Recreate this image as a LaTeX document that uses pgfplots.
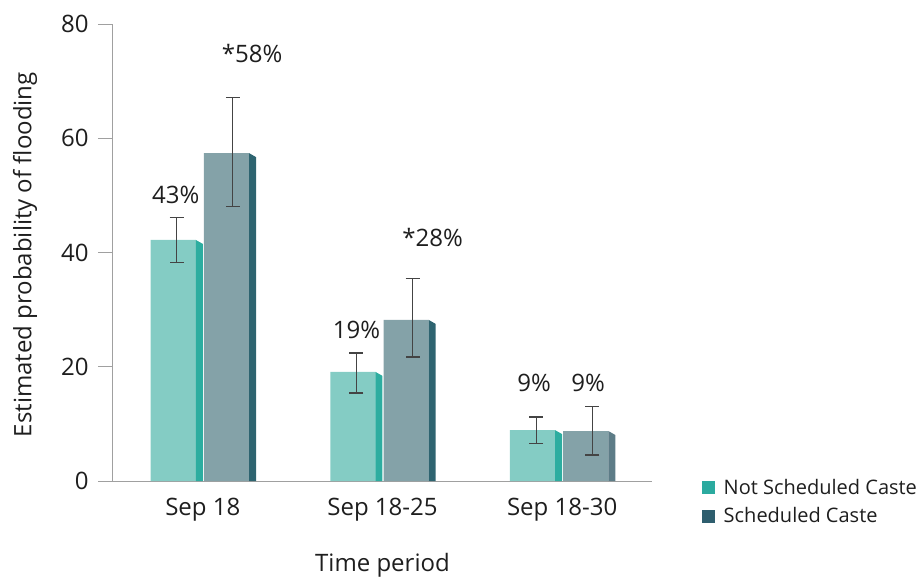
\documentclass[border=0pt]{standalone}
\usepackage{pgfplots}
\pgfplotsset{compat=1.18}
\usepackage{fontspec}
\setmainfont{Open Sans}

\definecolor{nscfront}{HTML}{84CCC4}
\definecolor{nscside}{HTML}{2DADA0}
\definecolor{scfront}{HTML}{84A2A8}
\definecolor{scside}{HTML}{2E6470}
\definecolor{scsidelt}{HTML}{5D7C87}
\definecolor{nsclegend}{HTML}{2BAA9F}
\definecolor{sclegend}{HTML}{2E5E6E}
\definecolor{axisgray}{HTML}{A0A0A0}
\definecolor{errgray}{HTML}{444444}
\definecolor{txt}{HTML}{1E1E1E}

\begin{document}
\begin{tikzpicture}[font=\fontsize{24bp}{28bp}\selectfont]
\path[use as bounding box] (-113bp,-96bp) rectangle (810bp,481bp);
\begin{axis}[
  at={(0,0)}, anchor=south west,
  scale only axis,
  width=539bp, height=457bp,
  xmin=-0.5, xmax=2.5,
  ymin=0, ymax=80,
  axis lines=left,
  axis line style={-, draw=axisgray, line width=1pt},
  ytick={0,20,40,60,80},
  xtick={0,1,2},
  xticklabels={Sep 18, Sep 18-25, Sep 18-30},
  tick align=outside,
  major tick length=15bp,
  y tick style={draw=axisgray, line width=1pt},
  x tick style={draw=none},
  tick label style={text=txt},
  /pgf/number format/assume math mode=true,
  xticklabel style={yshift=1bp},
  yticklabel style={xshift=-6bp},
  xlabel={Time period},
  ylabel={Estimated probability of flooding},
  label style={text=txt},
  x label style={at={(axis description cs:0.5,-0.185)}, anchor=center},
  y label style={at={(axis description cs:-0.163,0.495)}, anchor=center},
  legend style={at={(axis description cs:1.093,0.009)}, anchor=north west,
    draw=none, fill=none, font=\fontsize{20bp}{24bp}\selectfont,
    row sep=8bp, inner sep=0pt, text=txt,
    nodes={inner xsep=9bp}},
  legend cell align=left,
  clip=false,
]
% front faces
\addplot[ybar, bar width=0.2514, bar shift=-0.1648, fill=nscfront, draw=none, forget plot]
  coordinates {(0,42.2) (1,19.1) (2,8.9)};
\addplot[ybar, bar width=0.2514, bar shift=0.1313, fill=scfront, draw=none, forget plot]
  coordinates {(0,57.4) (1,28.2) (2,8.75)};
% side faces
\addplot[fill=nscside, draw=none, forget plot] coordinates {(-0.0391,0) (-0.0391,42.2) (0,41.5) (0,0)} --cycle;
\addplot[fill=nscside, draw=none, forget plot] coordinates {(0.9609,0) (0.9609,19.1) (1,18.4) (1,0)} --cycle;
\addplot[fill=nscside, draw=none, forget plot] coordinates {(1.9609,0) (1.9609,8.9) (2,8.2) (2,0)} --cycle;
\addplot[fill=scside, draw=none, forget plot] coordinates {(0.2570,0) (0.2570,57.4) (0.2961,56.7) (0.2961,0)} --cycle;
\addplot[fill=scside, draw=none, forget plot] coordinates {(1.2570,0) (1.2570,28.2) (1.2961,27.5) (1.2961,0)} --cycle;
\addplot[fill=scsidelt, draw=none, forget plot] coordinates {(2.2570,0) (2.2570,8.75) (2.2961,8.05) (2.2961,0)} --cycle;
% error bars
\addplot[draw=none, mark=none, forget plot,
  error bars/.cd, y dir=both, y explicit,
  error bar style={draw=errgray, line width=1.1pt},
  error mark options={rotate=90, mark size=7bp, draw=errgray, line width=1.1pt}]
  coordinates {
    (-0.1453,42.2) +=(0,3.9) -=(0,4.0)
    (0.8547,19.1) +=(0,3.3) -=(0,3.7)
    (1.8547,8.9) +=(0,2.3) -=(0,2.4)
    (0.1676,57.4) +=(0,9.8) -=(0,9.4)
    (1.1676,28.2) +=(0,7.2) -=(0,6.5)
    (2.1676,8.75) +=(0,4.35) -=(0,4.2)
  };
% value labels
\addplot[draw=none, mark=none, forget plot,
  point meta=explicit symbolic,
  nodes near coords,
  every node near coord/.append style={anchor=center, inner sep=0pt, text=txt}]
  coordinates {
    (-0.151,50.1) [43\%]
    (0.274,74.9) [*58\%]
    (0.855,26.4) [19\%]
    (1.279,42.7) [*28\%]
    (1.844,17.2) [9\%]
    (2.145,17.2) [9\%]
  };
\addlegendimage{legend image code/.code={\fill[nsclegend] (0bp,-6bp) rectangle (12bp,6bp);}}
\addlegendentry{Not Scheduled Caste}
\addlegendimage{legend image code/.code={\fill[sclegend] (0bp,-6bp) rectangle (12bp,6bp);}}
\addlegendentry{Scheduled Caste}
\end{axis}
\end{tikzpicture}
\end{document}
